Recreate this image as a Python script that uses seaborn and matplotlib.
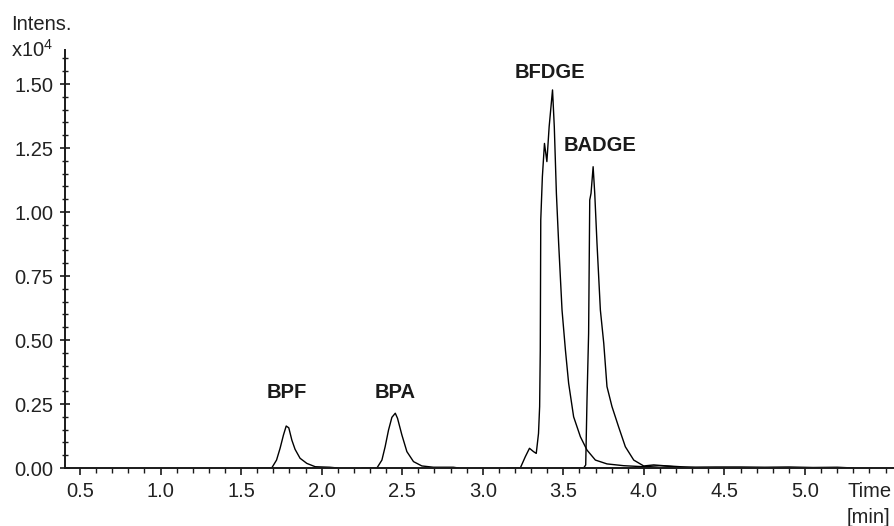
"""Extracted ion chromatogram of bisphenols (BPF, BPA, BFDGE, BADGE).

Saves out.png (894x526).
"""

import matplotlib
matplotlib.use("Agg")
import matplotlib.pyplot as plt
import numpy as np
import pandas as pd
import seaborn as sns
from matplotlib.ticker import MultipleLocator, FormatStrFormatter

# --------------------------------------------------------------------------- #
# Data (time in min, intensity in units of 1e4)
# --------------------------------------------------------------------------- #
BPF_TIME = [1.60, 1.69, 1.72, 1.742, 1.763, 1.78, 1.796, 1.815, 1.835,
            1.866, 1.908, 1.96, 2.05, 2.10]
BPF_INT = [0.0, 0.0, 0.031, 0.077, 0.129, 0.164, 0.157, 0.109, 0.073,
           0.038, 0.018, 0.005, 0.003, 0.0]

BPA_TIME = [2.25, 2.343, 2.374, 2.394, 2.415, 2.436, 2.457, 2.471, 2.498,
            2.529, 2.57, 2.622, 2.694, 2.817, 2.85]
BPA_INT = [0.0, 0.0, 0.031, 0.083, 0.148, 0.198, 0.214, 0.194, 0.129,
           0.064, 0.025, 0.008, 0.003, 0.003, 0.0]

BFDGE_TIME = [3.15, 3.233, 3.264, 3.29, 3.315, 3.332, 3.346, 3.353, 3.357,
              3.36, 3.37, 3.383, 3.398, 3.412, 3.433, 3.444, 3.457, 3.471,
              3.492, 3.513, 3.533, 3.564, 3.606, 3.647, 3.699, 3.771, 3.875,
              3.999, 4.102, 4.227, 4.45, 4.60, 4.75, 4.90, 5.05, 5.20, 5.30]
BFDGE_INT = [0.0, 0.0, 0.044, 0.077, 0.064, 0.057, 0.135, 0.24, 0.461,
             0.969, 1.138, 1.268, 1.197, 1.333, 1.477, 1.333, 1.073, 0.878,
             0.617, 0.461, 0.331, 0.2, 0.122, 0.07, 0.031, 0.016, 0.009,
             0.005, 0.009, 0.003, 0.004, 0.004, 0.003, 0.004, 0.002, 0.003, 0.0]

BADGE_TIME = [3.55, 3.626, 3.639, 3.647, 3.657, 3.664, 3.672, 3.685, 3.695,
              3.709, 3.73, 3.751, 3.771, 3.802, 3.843, 3.885, 3.937, 3.999,
              4.061, 4.123, 4.227, 4.35]
BADGE_INT = [0.0, 0.0, 0.012, 0.266, 0.526, 1.047, 1.073, 1.177, 1.073,
             0.878, 0.617, 0.487, 0.318, 0.24, 0.161, 0.083, 0.031, 0.008,
             0.012, 0.009, 0.005, 0.0]

PEAK_NAMES = ["BPF", "BPA", "BFDGE", "BADGE"]
LABEL_TIME = [1.786, 2.457, 3.414, 3.73]
LABEL_INT = [0.295, 0.295, 1.545, 1.258]

traces = pd.concat([
    pd.DataFrame({"time": BPF_TIME, "intensity": BPF_INT, "peak": "BPF"}),
    pd.DataFrame({"time": BPA_TIME, "intensity": BPA_INT, "peak": "BPA"}),
    pd.DataFrame({"time": BFDGE_TIME, "intensity": BFDGE_INT, "peak": "BFDGE"}),
    pd.DataFrame({"time": BADGE_TIME, "intensity": BADGE_INT, "peak": "BADGE"}),
], ignore_index=True)

# --------------------------------------------------------------------------- #
# Style
# --------------------------------------------------------------------------- #
sns.set_style("ticks")
plt.rcParams["font.family"] = ["Liberation Sans", "DejaVu Sans"]
plt.rcParams["mathtext.fontset"] = "custom"
plt.rcParams["mathtext.rm"] = "Liberation Sans"
plt.rcParams["mathtext.it"] = "Liberation Sans"
FS = 14.5
INK = "#1a1a1a"

fig = plt.figure(figsize=(8.94, 5.26), dpi=100)
ax = fig.add_axes([65 / 894, 1 - 468 / 526, 1 - 65 / 894, (468 - 50) / 526])

for name in PEAK_NAMES:
    sub = traces[traces["peak"] == name]
    sns.lineplot(data=sub, x="time", y="intensity", sort=False,
                 estimator=None, color="black", linewidth=1.0, ax=ax)

for name, t, y in zip(PEAK_NAMES, LABEL_TIME, LABEL_INT):
    ax.text(t, y, name, ha="center", va="center", fontsize=FS,
            fontweight="bold", color=INK)

ax.set_xlim(0.407, 5.5525)
ax.set_ylim(0, 1.633)
ax.set(xlabel="", ylabel="")

ax.xaxis.set_major_locator(MultipleLocator(0.5))
ax.xaxis.set_minor_locator(MultipleLocator(0.1))
ax.yaxis.set_major_locator(MultipleLocator(0.25))
ax.yaxis.set_minor_locator(MultipleLocator(0.05))
ax.xaxis.set_major_formatter(FormatStrFormatter("%.1f"))
ax.yaxis.set_major_formatter(FormatStrFormatter("%.2f"))
ax.set_xticks([0.5, 1.0, 1.5, 2.0, 2.5, 3.0, 3.5, 4.0, 4.5, 5.0])

sns.despine(ax=ax)
for side in ("left", "bottom"):
    ax.spines[side].set_linewidth(1.4)
    ax.spines[side].set_color(INK)

ax.tick_params(axis="both", which="major", labelsize=FS, colors=INK,
               labelcolor="#222222", width=1.2, length=5, pad=5)
ax.tick_params(axis="both", which="minor", width=1.0, length=3.5, colors=INK)
ax.tick_params(axis="y", which="major", direction="inout", length=7)
ax.tick_params(axis="y", which="minor", direction="inout", length=5)

fig.text(11 / 894, 1 - 30 / 526, "Intens.", fontsize=FS, color="#222222",
         ha="left", va="baseline")
fig.text(11 / 894, 1 - 57 / 526, r"x10$^4$", fontsize=FS, color="#222222",
         ha="left", va="baseline")
fig.text(847 / 894, 1 - 497 / 526, "Time", fontsize=FS, color="#222222",
         ha="left", va="baseline")
fig.text(847 / 894, 1 - 523 / 526, "[min]", fontsize=FS, color="#222222",
         ha="left", va="baseline")

fig.savefig("out.png", dpi=100)
plt.close(fig)
